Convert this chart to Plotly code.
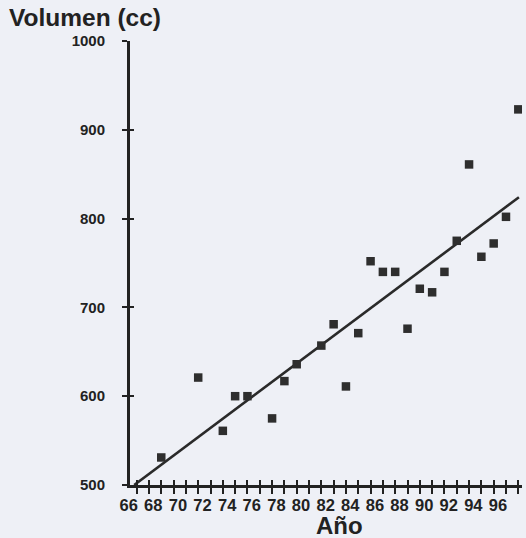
import plotly.graph_objects as go

# Data
years = [68, 71, 73, 74, 75, 77, 78, 79, 81, 82, 83, 84, 85, 86, 87, 88, 89, 90, 91, 92, 93, 94, 95, 96, 97]
volumes = [531, 621, 561, 600, 600, 575, 617, 636, 657, 681, 611, 671, 752, 740, 740, 676, 721, 717, 740, 775, 861, 757, 772, 802, 923]
fit_years = [65.8, 97.05]
fit_volumes = [500, 824]
x_ticks = list(range(66, 98))
x_labels = [str(v) if v % 2 == 0 else "" for v in x_ticks]
y_ticks = [500, 600, 700, 800, 900, 1000]
y_labels = [str(v) for v in y_ticks]

BG = "#eef0f6"
INK = "#222222"
FONT = "Liberation Sans, Arial, sans-serif"

W, H = 526, 538
ML, MR, MT, MB = 130, 4, 41, 53
PW, PH = W - ML - MR, H - MT - MB


def px_to_paper(x, y):
    return (x - ML) / PW, (H - MB - y) / PH


fig = go.Figure()
fig.add_trace(go.Scatter(
    x=fit_years, y=fit_volumes, mode="lines",
    line=dict(color="#2a2a2a", width=2.6), showlegend=False, hoverinfo="skip"))
fig.add_trace(go.Scatter(
    x=years, y=volumes, mode="markers",
    marker=dict(symbol="square", size=8.5, color="#2e2e2e", line=dict(width=0)),
    showlegend=False))
fig.add_trace(go.Scatter(x=[None], y=[None], xaxis="x2", yaxis="y2",
                         showlegend=False, hoverinfo="skip"))

tick_font = dict(family=FONT, size=16.5, color=INK, weight="bold")

fig.update_layout(
    width=W, height=H,
    margin=dict(l=ML, r=MR, t=MT, b=MB, pad=0),
    paper_bgcolor=BG, plot_bgcolor=BG,
    xaxis=dict(range=[65.46, 97.3], showline=True, linewidth=3, linecolor=INK,
               ticks="outside", ticklen=6, tickwidth=2, tickcolor=INK,
               tickmode="array", tickvals=x_ticks, ticktext=x_labels,
               tickfont=tick_font, showgrid=False, zeroline=False,
               ticklabelshift=-8, ticklabelstandoff=-3),
    xaxis2=dict(overlaying="x", matches="x", anchor="y", side="bottom",
                ticks="inside", ticklen=5, tickwidth=2, tickcolor=INK,
                tickmode="array", tickvals=x_ticks, showticklabels=False,
                showline=False, showgrid=False, zeroline=False),
    yaxis=dict(range=[500, 1000], showline=True, linewidth=3, linecolor=INK,
               ticks="outside", ticklen=5, tickwidth=2, tickcolor=INK,
               tickmode="array", tickvals=y_ticks, ticktext=y_labels,
               tickfont=dict(family=FONT, size=15, color=INK, weight="bold"),
               showgrid=False, zeroline=False, ticklabelstandoff=14),
    yaxis2=dict(overlaying="y", matches="y", anchor="x", side="left",
                ticks="inside", ticklen=4, tickwidth=2, tickcolor=INK,
                tickmode="array", tickvals=y_ticks, showticklabels=False,
                showline=False, showgrid=False, zeroline=False),
)

tx, ty = px_to_paper(7, 18)
ax, ay = px_to_paper(339, 525)
fig.add_annotation(text="Volumen (cc)", xref="paper", yref="paper", x=tx, y=ty,
                   xanchor="left", yanchor="middle", showarrow=False,
                   font=dict(family=FONT, size=24.5, color=INK, weight="bold"))
fig.add_annotation(text="Año", xref="paper", yref="paper", x=ax, y=ay,
                   xanchor="center", yanchor="middle", showarrow=False,
                   font=dict(family=FONT, size=24, color=INK, weight="bold"))

fig.write_html("out.html")
